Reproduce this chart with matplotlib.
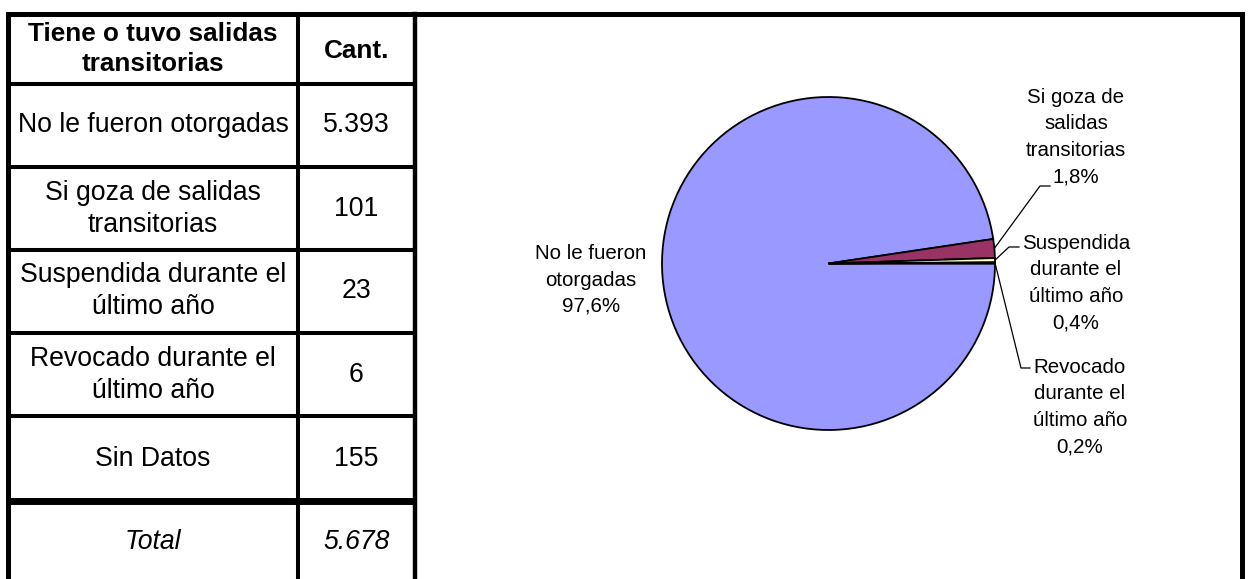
import numpy as np
import matplotlib
matplotlib.use('Agg')
import matplotlib.pyplot as plt

plt.rcParams['font.family'] = ['Liberation Sans', 'DejaVu Sans']

# datos de la tabla
encabezado = ["Tiene o tuvo salidas\ntransitorias", "Cant."]
categorias = ["No le fueron otorgadas", "Si goza de salidas\ntransitorias",
              "Suspendida durante el\núltimo año", "Revocado durante el\núltimo año",
              "Sin Datos"]
cantidades = [5393, 101, 23, 6, 155]

# datos de la torta (sin "Sin Datos")
etiquetas_torta = ["No le fueron\notorgadas", "Si goza de\nsalidas\ntransitorias",
                   "Suspendida\ndurante el\núltimo año", "Revocado\ndurante el\núltimo año"]
valores_torta = [5393, 101, 23, 6]
porcentajes = ["97,6%", "1,8%", "0,4%", "0,2%"]
colores = ['#9999FF', '#993366', '#FFFFCC', '#CCFFFF']


def fmt(n):
    return f"{n:,}".replace(",", ".")


W, H = 1249, 579
fig = plt.figure(figsize=(W / 100, H / 100), dpi=100)
ax = fig.add_axes([0, 0, 1, 1])
ax.set_xlim(0, W)
ax.set_ylim(H, 0)
ax.axis('off')

# grilla de la tabla (pixeles)
filas_y = [14, 84, 167, 250, 333, 416, 501, 583]
cols_x = [8, 298, 415]
der = 1242

# bordes externos
ax.plot([cols_x[0], der], [filas_y[0], filas_y[0]], color='black', lw=3.6, solid_capstyle='projecting')
ax.plot([cols_x[0], cols_x[0]], [filas_y[0], H + 10], color='black', lw=3.6)
ax.plot([der, der], [filas_y[0], H + 10], color='black', lw=3.6)
ax.plot([cols_x[2], cols_x[2]], [filas_y[0], H + 10], color='black', lw=3.2)
ax.plot([cols_x[1], cols_x[1]], [filas_y[0], H + 10], color='black', lw=2.9)
for i, y in enumerate(filas_y[1:-1]):
    lw = 5.0 if i == len(filas_y) - 3 else 2.9
    ax.plot([cols_x[0], cols_x[2]], [y, y], color='black', lw=lw, solid_capstyle='butt')

cx1 = (cols_x[0] + cols_x[1]) / 2
cx2 = (cols_x[1] + cols_x[2]) / 2
fst = 19.2

# encabezado
yc = (filas_y[0] + filas_y[1]) / 2
ax.text(cx1, yc, encabezado[0], ha='center', va='center', fontsize=18.8,
        fontweight='bold', linespacing=1.3)
ax.text(cx2, yc + 2, encabezado[1], ha='center', va='center', fontsize=18.8,
        fontweight='bold')

# filas
for i, (cat, n) in enumerate(zip(categorias, cantidades)):
    yc = (filas_y[i + 1] + filas_y[i + 2]) / 2
    ax.text(cx1, yc, cat, ha='center', va='center', fontsize=fst, linespacing=1.3)
    ax.text(cx2, yc, fmt(n), ha='center', va='center', fontsize=fst)

# total
yc = 542
ax.text(cx1, yc, "Total", ha='center', va='center', fontsize=fst, style='italic')
ax.text(cx2, yc, fmt(sum(cantidades)), ha='center', va='center', fontsize=fst, style='italic')

# torta
pcx, pcy, R = 828.5, 263.5, 166.5
pax = fig.add_axes([(pcx - R) / W, (H - pcy - R) / H, 2 * R / W, 2 * R / H])
wedges, _ = pax.pie(valores_torta, colors=colores, startangle=0, counterclock=False,
                    wedgeprops=dict(edgecolor='black', linewidth=1.3))
pax.set_xlim(-1, 1)
pax.set_ylim(-1, 1)
pax.axis('off')

fs = 14.8
ax.text(591, 280, etiquetas_torta[0] + "\n" + porcentajes[0], ha='center', va='center',
        fontsize=fs, linespacing=1.5)

# posiciones de etiquetas y codos de las guias
pos_texto = [None, (1076, 137), (1076, 283), (1080, 407)]
codos = [None, [(1040, 186), (1050, 186)], [(1009, 247), (1019, 247)],
         [(1021, 368), (1030, 368)]]

for i in range(1, 4):
    w = wedges[i]
    ang = np.deg2rad((w.theta1 + w.theta2) / 2)
    ex = pcx + R * np.cos(ang)
    ey = pcy - R * np.sin(ang)
    xs = [ex] + [p[0] for p in codos[i]]
    ys = [ey] + [p[1] for p in codos[i]]
    ax.plot(xs, ys, color='black', lw=0.9)
    tx, ty = pos_texto[i]
    ax.text(tx, ty, etiquetas_torta[i] + "\n" + porcentajes[i], ha='center', va='center',
            fontsize=fs, linespacing=1.5)

fig.savefig('out.png', dpi=100)
plt.close(fig)
